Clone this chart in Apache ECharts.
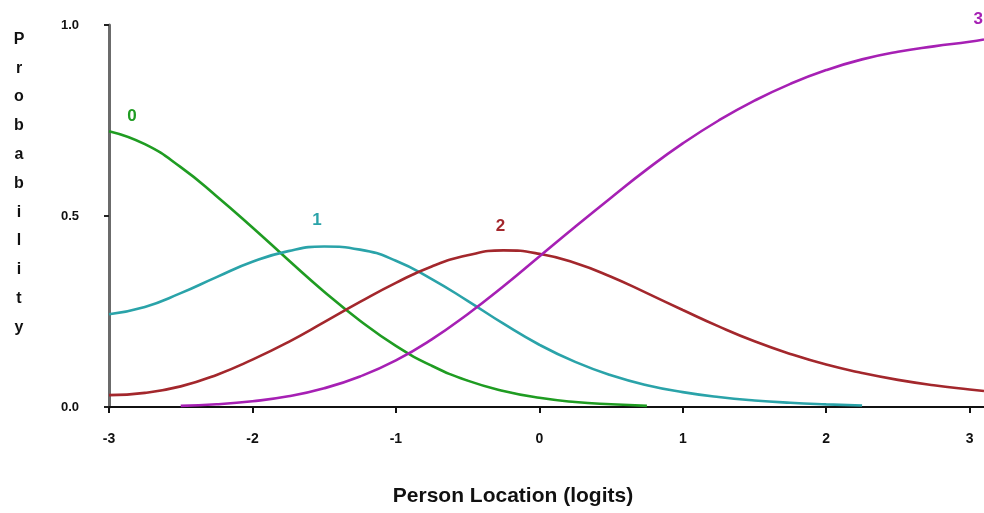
<!DOCTYPE html>
<html>
<head>
<meta charset="utf-8">
<script src="https://cdn.jsdelivr.net/npm/echarts@6/dist/echarts.min.js"></script>
<style>
  html, body { margin: 0; padding: 0; background: #ffffff; }
  #chart { width: 984px; height: 513px; }
</style>
</head>
<body>
<div id="chart"></div>
<script>
// Person location (logits) sample points
const locations = [-3, -2.75, -2.5, -2.25, -2, -1.75, -1.5, -1.25, -1, -0.75, -0.5, -0.25,
  0, 0.25, 0.5, 0.75, 1, 1.25, 1.5, 1.75, 2, 2.25, 2.5, 2.75, 3, 3.1];

// Category probability curves (null where the curve is not drawn)
const cat0 = [0.722, 0.688, 0.628, 0.552, 0.470, 0.385, 0.302, 0.226, 0.160, 0.108, 0.069, 0.042,
  0.024, 0.013, 0.007, 0.003, null, null, null, null, null, null, null, null, null, null];
const cat1 = [0.243, 0.262, 0.298, 0.340, 0.380, 0.408, 0.420, 0.412, 0.383, 0.335, 0.278, 0.218,
  0.163, 0.118, 0.083, 0.057, 0.039, 0.026, 0.017, 0.011, 0.007, 0.004, null, null, null, null];
const cat2 = [0.031, 0.037, 0.054, 0.084, 0.124, 0.170, 0.222, 0.275, 0.325, 0.368, 0.397, 0.410,
  0.401, 0.377, 0.341, 0.298, 0.254, 0.211, 0.172, 0.139, 0.111, 0.089, 0.071, 0.057, 0.046, 0.042];
const cat3 = [null, null, 0.003, 0.007, 0.015, 0.028, 0.049, 0.080, 0.122, 0.177, 0.243, 0.316,
  0.394, 0.472, 0.548, 0.622, 0.690, 0.750, 0.802, 0.846, 0.882, 0.910, 0.930, 0.944, 0.956, 0.962];

const categoryNames = ['0', '1', '2', '3'];
const categoryColors = ['#1f9c22', '#2aa3a9', '#a3272c', '#a620b4'];
// Where each category number is written: [location, probability]
const categoryLabelAt = [[-2.84, 0.76], [-1.55, 0.49], [-0.27, 0.473], [3.06, 1.015]];

const xTicks = [-3, -2, -1, 0, 1, 2, 3];
const yTicks = [0, 0.5, 1];
const yTickLabels = ['0.0', '0.5', '1.0'];

const curves = [cat0, cat1, cat2, cat3];
const labelFont = '"Liberation Sans", Arial, sans-serif';

const chart = echarts.init(document.getElementById('chart'), null, { renderer: 'canvas' });

const series = curves.map((vals, i) => ({
  name: categoryNames[i],
  type: 'line',
  smooth: 0.5,
  symbol: 'none',
  clip: false,
  lineStyle: { color: categoryColors[i], width: 2.6 },
  data: locations.map((x, k) => (vals[k] === null ? null : [x, vals[k]])).filter(p => p !== null),
  z: 3 + i
}));

chart.setOption({
  animation: false,
  backgroundColor: '#ffffff',
  grid: { left: 109, right: 0, top: 25, bottom: 106, containLabel: false },
  xAxis: {
    type: 'value',
    min: -3,
    max: 3.1,
    interval: 1,
    axisLine: { show: true, onZero: false, lineStyle: { color: '#111111', width: 2 } },
    axisTick: { show: true, length: 6, customValues: xTicks, lineStyle: { color: '#111111', width: 2 } },
    axisLabel: {
      customValues: xTicks,
      margin: 25,
      color: '#111111',
      fontFamily: labelFont,
      fontWeight: 'bold',
      fontSize: 14,
      formatter: v => String(v)
    },
    splitLine: { show: false }
  },
  yAxis: {
    type: 'value',
    min: 0,
    max: 1,
    interval: 0.5,
    axisLine: { show: true, onZero: false, lineStyle: { color: '#6b6b6b', width: 3 } },
    axisTick: { show: true, length: 5, customValues: yTicks, lineStyle: { color: '#222222', width: 2 } },
    axisLabel: {
      customValues: yTicks,
      margin: 30,
      color: '#111111',
      fontFamily: labelFont,
      fontWeight: 'bold',
      fontSize: 13,
      formatter: v => yTickLabels[yTicks.indexOf(v)]
    },
    splitLine: { show: false }
  },
  graphic: [
    {
      id: 'xTitle',
      type: 'text',
      x: 513,
      y: 496,
      style: {
        text: 'Person Location (logits)',
        fill: '#111111',
        font: 'bold 21px ' + labelFont,
        textAlign: 'center',
        textVerticalAlign: 'middle'
      }
    },
    {
      id: 'yTitle',
      type: 'text',
      x: 19,
      y: 25,
      style: {
        text: 'Probability'.split('').join('\n'),
        fill: '#111111',
        font: 'bold 16px ' + labelFont,
        lineHeight: 28.8,
        textAlign: 'center'
      }
    }
  ],
  series: series
});

// Category numbers written next to their curves
chart.setOption({
  graphic: categoryLabelAt.map((pos, i) => {
    const p = chart.convertToPixel({ gridIndex: 0 }, pos);
    return {
      id: 'cat' + i,
      type: 'text',
      x: p[0],
      y: p[1],
      z: 10,
      style: {
        text: categoryNames[i],
        fill: categoryColors[i],
        font: 'bold 17px ' + labelFont,
        textAlign: 'center',
        textVerticalAlign: 'middle'
      }
    };
  })
});
</script>
</body>
</html>
